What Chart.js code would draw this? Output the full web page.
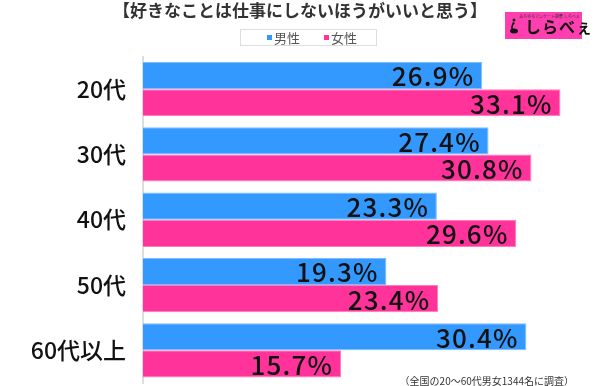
<!DOCTYPE html>
<html><head><meta charset="utf-8">
<script src="https://cdn.jsdelivr.net/npm/chart.js@4"></script>
<style>
html,body{margin:0;padding:0;background:#fff;}
#wrap{position:relative;width:600px;height:386px;}
#logo{position:absolute;left:505px;top:12px;width:77px;height:27px;background:#ff3fb0;box-sizing:border-box;font-family:"Noto Sans CJK JP",sans-serif;}
#logo .s{position:absolute;left:14px;top:1px;font-size:4px;color:#333;white-space:nowrap;}
#logo .m{position:absolute;left:20px;top:4px;font-size:16px;line-height:20px;font-weight:700;color:#111;letter-spacing:1px;white-space:nowrap;}
#logo .i{position:absolute;left:4px;top:6px;width:10px;height:16px;}
</style></head>
<body><div id="wrap"><canvas id="c" width="600" height="386"></canvas>
<div id="logo"><span class="s">あらゆるアンケート調査 しらべぇ</span><svg class="i" viewBox="0 0 10 16"><circle cx="5" cy="2" r="1.5" fill="#111"/><path d="M4 4 Q1 9 3 13 Q5 16 8 14 L8 12 Q5 14 4 11 Q3 8 6 5 Z" fill="#111"/><ellipse cx="5" cy="13" rx="4" ry="2.5" fill="#111"/></svg><span class="m">しらべぇ</span></div>
</div>
<script>
const categories = ["20代","30代","40代","50代","60代以上"];
const seriesNames = ["男性","女性"];
const maleValues = [26.9, 27.4, 23.3, 19.3, 30.4];
const femaleValues = [33.1, 30.8, 29.6, 23.4, 15.7];
const titleText = "【好きなことは仕事にしないほうがいいと思う】";
const noteText = "（全国の20～60代男女1344名に調査）";
const colors = ["#3399ff", "#ff3399"];

const font = '"Noto Sans CJK JP", "Noto Sans", sans-serif';

const decor = {
  id: 'decor',
  afterDatasetsDraw(chart) {
    const ctx = chart.ctx;
    ctx.save();
    ctx.fillStyle = '#111';
    ctx.font = '500 26px ' + font;
    ctx.letterSpacing = '1.2px';
    ctx.textAlign = 'right';
    ctx.textBaseline = 'middle';
    chart.data.datasets.forEach((ds, di) => {
      chart.getDatasetMeta(di).data.forEach((bar, i) => {
        ctx.fillText(ds.data[i].toFixed(1) + '%', bar.x - 7.8, bar.y + 1);
      });
    });
    ctx.restore();
  },
  afterDraw(chart) {
    const ctx = chart.ctx;
    ctx.save();
    ctx.fillStyle = '#333';
    ctx.font = 'bold 17px ' + font;
    ctx.textAlign = 'center';
    ctx.textBaseline = 'middle';
    ctx.fillText(titleText, 300, 11);
    ctx.strokeStyle = '#dddddd';
    ctx.lineWidth = 1;
    ctx.strokeRect(240.5, 29.5, 136, 16);
    ctx.font = '13px ' + font;
    ctx.textAlign = 'left';
    const xs = [267, 324];
    chart.data.datasets.forEach((ds, di) => {
      ctx.fillStyle = ds.backgroundColor;
      ctx.fillRect(xs[di], 35, 5, 5);
      ctx.fillStyle = '#555';
      ctx.fillText(ds.label, xs[di] + 7, 38);
    });
    ctx.fillStyle = '#333';
    ctx.font = '10px ' + font;
    ctx.textAlign = 'right';
    ctx.fillText(noteText, 574, 381);
    ctx.restore();
  }
};

new Chart(document.getElementById('c'), {
  type: 'bar',
  data: {
    labels: categories,
    datasets: [
      { label: seriesNames[0], data: maleValues, backgroundColor: colors[0], borderColor: '#7cbcff', borderWidth: 1, borderSkipped: 'start' },
      { label: seriesNames[1], data: femaleValues, backgroundColor: colors[1], borderColor: '#ff7cbc', borderWidth: 1, borderSkipped: 'start' }
    ]
  },
  options: {
    indexAxis: 'y',
    responsive: false,
    animation: false,
    layout: { padding: { top: 56.5, bottom: 3, right: 15.6, left: 0 } },
    plugins: { legend: { display: false }, tooltip: { enabled: false }, title: { display: false } },
    datasets: { bar: { categoryPercentage: 0.832, barPercentage: 1 } },
    scales: {
      x: { display: false, min: 0, max: 35 },
      y: {
        afterFit(s) { s.width = 143; s.paddingTop = 0; s.paddingBottom = 0; },
        grid: { display: false, drawTicks: false },
        border: { display: true, color: '#dddddd', width: 2 },
        ticks: { color: '#111', font: { family: font, size: 23, weight: '500' }, padding: 17 }
      }
    }
  },
  plugins: [decor]
});
</script></body></html>
